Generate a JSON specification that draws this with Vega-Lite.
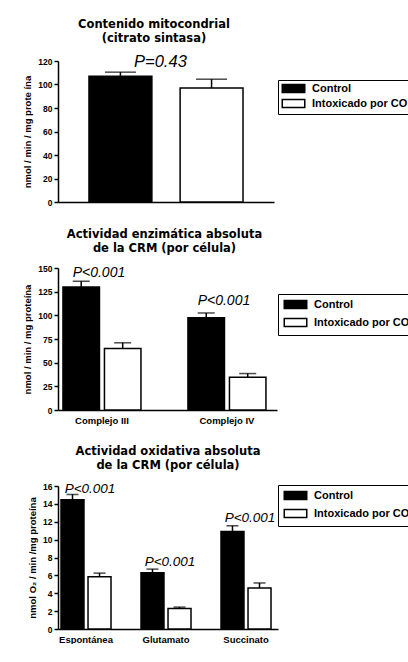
{
  "$schema": "https://vega.github.io/schema/vega-lite/v6.json",
  "padding": {"left": 22, "top": 18, "right": 0, "bottom": 0},
  "background": "white",
  "spacing": 21,
  "resolve": {"scale": {"fill": "independent", "x": "independent", "y": "independent", "xOffset": "independent"}, "legend": {"fill": "independent"}},
  "config": {
    "view": {"stroke": null},
    "axis": {
      "domainColor": "black", "domainWidth": 1.5, "tickColor": "black", "tickWidth": 1.5, "tickSize": 4,
      "labelFont": "Liberation Sans", "labelFontWeight": "bold", "labelFontSize": 8.5, "labelColor": "black",
      "titleFont": "Liberation Sans", "titleFontWeight": "bold", "titleFontSize": 9.5, "titleColor": "black",
      "grid": false, "labelPadding": 2, "titlePadding": 5, "labelOverlap": false
    },
    "title": {"font": "DejaVu Sans", "fontWeight": "bold", "fontSize": 11.5, "color": "black", "lineHeight": 14, "anchor": "middle", "frame": "group", "offset": 10},
    "legend": {
      "title": null, "labelFont": "Liberation Sans", "labelFontWeight": "bold", "labelFontSize": 11, "labelColor": "black",
      "strokeColor": "black", "fillColor": "white", "padding": 5, "rowPadding": 3, "labelOffset": 13, "symbolOffset": 7,
      "symbolType": "M-2.5,-0.9H2.5V0.9H-2.5Z", "symbolSize": 81, "symbolStrokeColor": "black", "symbolStrokeWidth": 1.5, "orient": "none"
    }
  },
  "vconcat": [
    {
      "title": {"text": ["Contenido mitocondrial", "(citrato sintasa)"], "dx": -12},
      "width": 216, "height": 141,
      "data": {"values": [
        {"group": "Control", "value": 107, "upper": 110.5},
        {"group": "Intoxicado por CO", "value": 97, "upper": 104.5}
      ]},
      "encoding": {
        "x": {"field": "group", "type": "nominal", "sort": null, "scale": {"paddingInner": 0.31, "paddingOuter": 0.34},
              "axis": {"labels": false, "ticks": false, "title": null}}
      },
      "layer": [
        {"mark": {"type": "bar", "stroke": "black", "strokeWidth": 1.5},
         "encoding": {
           "y": {"field": "value", "type": "quantitative", "scale": {"domain": [0, 120], "nice": false},
                 "axis": {"values": [0, 20, 40, 60, 80, 100, 120], "tickCount": 20, "title": "nmol / min / mg prote ína"}},
           "fill": {"field": "group", "type": "nominal", "sort": null, "scale": {"range": ["black", "white"]},
                    "legend": {"legendX": 220, "legendY": 19, "padding": 3, "rowPadding": 0}}
         }},
        {"mark": {"type": "rule", "color": "black", "strokeWidth": 1.5},
         "encoding": {"y": {"field": "value", "type": "quantitative"}, "y2": {"field": "upper"}}},
        {"mark": {"type": "tick", "color": "black", "thickness": 1.5, "size": 31},
         "encoding": {"y": {"field": "upper", "type": "quantitative"}}},
        {"data": {"values": [{"group": "Control", "label": "P=0.43", "y": 119}]},
         "mark": {"type": "text", "font": "Liberation Sans", "fontStyle": "italic", "fontSize": 16.5, "baseline": "middle", "align": "center", "dx": 40, "color": "black"},
         "encoding": {"y": {"field": "y", "type": "quantitative"}, "text": {"field": "label"}}}
      ]
    },
    {
      "title": {"text": ["Actividad enzimática absoluta", "de la CRM (por célula)"], "dx": -3},
      "width": 219, "height": 142,
      "data": {"values": [
        {"cat": "Complejo III", "group": "Control", "value": 130, "upper": 136},
        {"cat": "Complejo III", "group": "Intoxicado por CO", "value": 65, "upper": 71},
        {"cat": "Complejo IV", "group": "Control", "value": 97.5, "upper": 102.5},
        {"cat": "Complejo IV", "group": "Intoxicado por CO", "value": 34.5, "upper": 38.5}
      ]},
      "encoding": {
        "x": {"field": "cat", "type": "nominal", "sort": null, "scale": {"paddingInner": 0.376, "paddingOuter": 0.064, "align": 0.31},
              "axis": {"ticks": false, "labelAngle": 0, "labelPadding": 5, "labelFontSize": 9.5, "title": null}}
      },
      "layer": [
        {"mark": {"type": "bar", "stroke": "black", "strokeWidth": 1.5},
         "encoding": {
           "xOffset": {"field": "group", "type": "nominal", "sort": null, "scale": {"paddingInner": 0.12, "paddingOuter": 0}},
           "y": {"field": "value", "type": "quantitative", "scale": {"domain": [0, 150], "nice": false},
                 "axis": {"values": [0, 25, 50, 75, 100, 125, 150], "tickCount": 20, "title": "nmol / min / mg proteína"}},
           "fill": {"field": "group", "type": "nominal", "sort": null, "scale": {"range": ["black", "white"]},
                    "legend": {"legendX": 220, "legendY": 26}}
         }},
        {"mark": {"type": "rule", "color": "black", "strokeWidth": 1.5},
         "encoding": {"xOffset": {"field": "group", "type": "nominal", "sort": null}, "y": {"field": "value", "type": "quantitative"}, "y2": {"field": "upper"}}},
        {"mark": {"type": "tick", "color": "black", "thickness": 1.5, "size": 17},
         "encoding": {"xOffset": {"field": "group", "type": "nominal", "sort": null}, "y": {"field": "upper", "type": "quantitative"}}},
        {"data": {"values": [
           {"cat": "Complejo III", "label": "P<0.001", "y": 144.5},
           {"cat": "Complejo IV", "label": "P<0.001", "y": 115}
         ]},
         "mark": {"type": "text", "font": "Liberation Sans", "fontStyle": "italic", "fontSize": 14, "baseline": "middle", "align": "center", "dx": -3, "color": "black"},
         "encoding": {"y": {"field": "y", "type": "quantitative"}, "text": {"field": "label"}}}
      ]
    },
    {
      "title": {"text": ["Actividad oxidativa absoluta", "de la CRM (por célula)"], "dx": 0},
      "width": 220, "height": 143,
      "data": {"values": [
        {"cat": "Espontánea", "group": "Control", "value": 14.45, "upper": 15.05},
        {"cat": "Espontánea", "group": "Intoxicado por CO", "value": 5.85, "upper": 6.25},
        {"cat": "Glutamato", "group": "Control", "value": 6.3, "upper": 6.7},
        {"cat": "Glutamato", "group": "Intoxicado por CO", "value": 2.3, "upper": 2.45},
        {"cat": "Succinato", "group": "Control", "value": 10.9, "upper": 11.55},
        {"cat": "Succinato", "group": "Intoxicado por CO", "value": 4.6, "upper": 5.15}
      ]},
      "encoding": {
        "x": {"field": "cat", "type": "nominal", "sort": null, "scale": {"paddingInner": 0.375, "paddingOuter": 0.0625, "align": 0.3},
              "axis": {"ticks": false, "labelAngle": 0, "labelPadding": 5, "labelFontSize": 9.5, "title": null}}
      },
      "layer": [
        {"mark": {"type": "bar", "stroke": "black", "strokeWidth": 1.5},
         "encoding": {
           "xOffset": {"field": "group", "type": "nominal", "sort": null, "scale": {"paddingInner": 0.15, "paddingOuter": 0}},
           "y": {"field": "value", "type": "quantitative", "scale": {"domain": [0, 16], "nice": false},
                 "axis": {"values": [0, 2, 4, 6, 8, 10, 12, 14, 16], "tickCount": 20, "title": "nmol O₂ / min /mg proteína"}},
           "fill": {"field": "group", "type": "nominal", "sort": null, "scale": {"range": ["black", "white"]},
                    "legend": {"legendX": 220, "legendY": -1}}
         }},
        {"mark": {"type": "rule", "color": "black", "strokeWidth": 1.5},
         "encoding": {"xOffset": {"field": "group", "type": "nominal", "sort": null}, "y": {"field": "value", "type": "quantitative"}, "y2": {"field": "upper"}}},
        {"mark": {"type": "tick", "color": "black", "thickness": 1.5, "size": 12},
         "encoding": {"xOffset": {"field": "group", "type": "nominal", "sort": null}, "y": {"field": "upper", "type": "quantitative"}}},
        {"data": {"values": [
           {"cat": "Espontánea", "label": "P<0.001", "y": 15.7},
           {"cat": "Glutamato", "label": "P<0.001", "y": 7.5},
           {"cat": "Succinato", "label": "P<0.001", "y": 12.45}
         ]},
         "mark": {"type": "text", "font": "Liberation Sans", "fontStyle": "italic", "fontSize": 13.5, "baseline": "middle", "align": "center", "dx": 4, "color": "black"},
         "encoding": {"y": {"field": "y", "type": "quantitative"}, "text": {"field": "label"}}}
      ]
    }
  ]
}
